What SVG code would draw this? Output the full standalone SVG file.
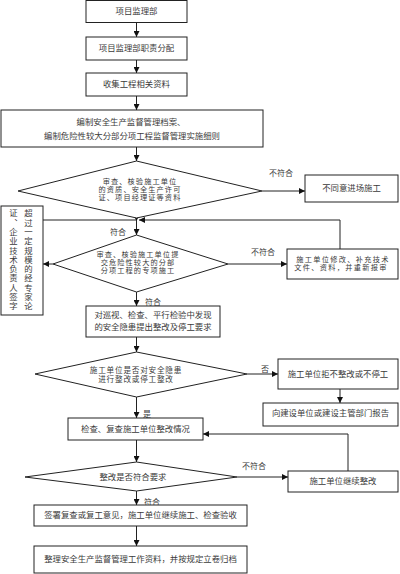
<svg xmlns="http://www.w3.org/2000/svg" width="400" height="574" viewBox="0 0 400 574">
<defs>
<marker id="ah" markerUnits="userSpaceOnUse" markerWidth="6" markerHeight="6" refX="6" refY="3" orient="auto">
<path d="M0,0 L6,3 L0,6 z" fill="#111"/>
</marker>
<style>
.b{fill:#fff;stroke:#222;stroke-width:1}
.c{fill:none;stroke:#222;stroke-width:1}
.a{fill:none;stroke:#222;stroke-width:1;marker-end:url(#ah)}
text{font-family:"Liberation Serif","Noto Sans CJK SC",serif;font-size:8.4px;fill:#3a3a3a;text-anchor:middle;dominant-baseline:central}
.s{font-size:8px}
.t{font-size:7.2px;letter-spacing:1.1px}
.v{writing-mode:vertical-rl;text-anchor:start;dominant-baseline:auto;letter-spacing:0.9px}
</style>
</defs>
<rect width="400" height="574" fill="#fff"/>

<g id="connectors">
<line class="a" x1="136.5" y1="22.5" x2="136.5" y2="37"/>
<line class="a" x1="136.5" y1="60" x2="136.5" y2="73"/>
<line class="a" x1="136.5" y1="96" x2="136.5" y2="110"/>
<line class="a" x1="136.5" y1="147" x2="136.5" y2="161"/>
<line class="a" x1="262" y1="191" x2="305" y2="191"/>
<text x="281" y="173" class="s">不符合</text>
<line class="c" x1="43" y1="220" x2="136.5" y2="220"/>
<path d="M133.5,215 L139.5,215 L136.5,221 z" fill="#111"/>
<polyline class="a" points="340,249 340,220 139,220"/>
<line class="a" x1="136.5" y1="220" x2="136.5" y2="235"/>
<text x="118" y="232" class="s">符合</text>
<line class="a" x1="53" y1="264" x2="43" y2="264"/>
<line class="a" x1="228" y1="264" x2="287" y2="264"/>
<text x="263" y="252" class="s">不符合</text>
<line class="a" x1="136.5" y1="292" x2="136.5" y2="306"/>
<text x="153" y="302" class="s">符合</text>
<line class="a" x1="136.5" y1="337" x2="136.5" y2="352"/>
<line class="a" x1="247" y1="374" x2="278" y2="374"/>
<text x="265" y="369" class="s">否</text>
<line class="a" x1="340" y1="389" x2="340" y2="403"/>
<line class="a" x1="136.5" y1="397" x2="136.5" y2="418"/>
<text x="147" y="414" class="s">是</text>
<polyline class="a" points="348,471 348,434 203,434"/>
<line class="a" x1="136.5" y1="440" x2="136.5" y2="462"/>
<line class="a" x1="237" y1="477" x2="288" y2="477"/>
<text x="254" y="466" class="s">不符合</text>
<line class="a" x1="136.5" y1="491" x2="136.5" y2="505"/>
<text x="152" y="502" class="s">符合</text>
<line class="a" x1="136.5" y1="526" x2="136.5" y2="546"/>
</g>

<g id="n1"><rect class="b" x="86" y="0.5" width="101" height="22"/><text x="136.5" y="11.5">项目监理部</text></g>
<g id="n2"><rect class="b" x="86" y="37" width="101" height="23"/><text x="136.5" y="48.5">项目监理部职责分配</text></g>
<g id="n3"><rect class="b" x="86" y="73" width="101" height="23"/><text x="136.5" y="84.5">收集工程相关资料</text></g>
<g id="n4"><rect class="b" x="1" y="110" width="262" height="37"/><text x="131" y="122.5">编制安全生产监督管理档案、</text><text x="132" y="136.5">编制危险性较大分部分项工程监督管理实施细则</text></g>
<g id="d1"><polygon class="b" points="136.5,161 262,191 136.5,218 18,191"/><text class="t" x="140" y="181.5">审查、核验施工单位</text><text class="t" x="140" y="189.5">的资质、安全生产许可</text><text class="t" x="140" y="197.5">证、项目经理证等资料</text></g>
<g id="n5"><rect class="b" x="305" y="175" width="93" height="27"/><text x="351.5" y="188.5">不同意进场施工</text></g>
<g id="d2"><polygon class="b" points="136.5,235 228,264 136.5,292 53,264"/><text class="t" x="138" y="254.5">审查、核验施工单位提</text><text class="t" x="138" y="262.5">交危险性较大的分部</text><text class="t" x="138" y="270.5">分项工程的专项施工</text></g>
<g id="n6"><rect class="b" x="287" y="249" width="111" height="30"/><text class="t" x="343" y="259.5" style="letter-spacing:1.3px">施工单位修改、补充技术</text><text class="t" x="341" y="268" style="letter-spacing:1.3px">文件、资料，并重新报审</text></g>
<g id="n7"><rect class="b" x="1" y="206" width="42" height="109"/><text class="v" x="27" y="209">超过一定规模的经专家论</text><text class="v" x="12" y="209">证、企业技术负责人签字</text></g>
<g id="n8"><rect class="b" x="86" y="306" width="134" height="31"/><text x="153" y="315.5">对巡视、检查、平行检验中发现</text><text x="153" y="327">的安全隐患提出整改及停工要求</text></g>
<g id="d3"><polygon class="b" points="136.5,352 247,374 136.5,397 35,374"/><text class="t" x="136" y="370" style="font-size:7.6px;letter-spacing:0.8px">施工单位是否对安全隐患</text><text class="t" x="136" y="379" style="font-size:7.6px;letter-spacing:0.8px">进行整改或停工整改</text></g>
<g id="n9"><rect class="b" x="278" y="359" width="120" height="30"/><text x="338" y="374">施工单位拒不整改或不停工</text></g>
<g id="n10"><rect class="b" x="263" y="403" width="135" height="23"/><text x="330.5" y="413.5">向建设单位或建设主管部门报告</text></g>
<g id="n11"><rect class="b" x="68" y="418" width="135" height="22"/><text x="135.5" y="429">检查、复查施工单位整改情况</text></g>
<g id="d4"><polygon class="b" points="136.5,462 237,477 136.5,491 25,477"/><text x="133" y="477.5">整改是否符合要求</text></g>
<g id="n12"><rect class="b" x="288" y="471" width="110" height="21"/><text x="343" y="481.5">施工单位继续整改</text></g>
<g id="n13"><rect class="b" x="34" y="505" width="213" height="21"/><text x="140.5" y="515.5">签署复查或复工意见，施工单位继续施工、检查验收</text></g>
<g id="n14"><rect class="b" x="34" y="546" width="213" height="27"/><text x="140.5" y="559.5">整理安全生产监督管理工作资料，并按规定立卷归档</text></g>
</svg>
